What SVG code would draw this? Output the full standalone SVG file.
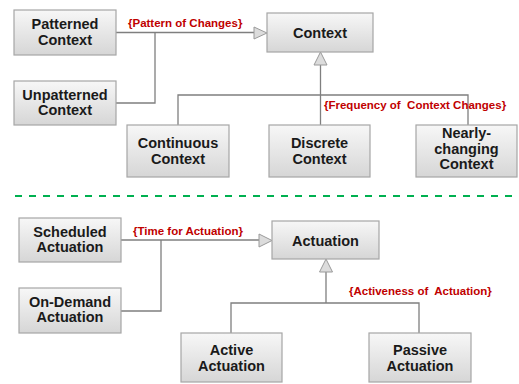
<svg xmlns="http://www.w3.org/2000/svg" width="519" height="384" viewBox="0 0 519 384">
<defs>
<linearGradient id="g" x1="0" y1="0" x2="0" y2="1">
<stop offset="0" stop-color="#f7f7f7"/>
<stop offset="1" stop-color="#d6d6d6"/>
</linearGradient>
</defs>
<style>
.box{fill:url(#g);stroke:#a6a6a6;stroke-width:1.2}
.t{font-family:"Liberation Sans",Arial,sans-serif;font-weight:bold;font-size:14.5px;fill:#1a1a1a;text-anchor:middle}
.lbl{font-family:"Liberation Sans",Arial,sans-serif;font-weight:bold;font-size:11.5px;fill:#c00000;white-space:pre}
.ln{fill:none;stroke:#7f7f7f;stroke-width:1.3}
.tri{fill:#dcdcdc;stroke:#9a9a9a;stroke-width:1}
</style>
<rect width="519" height="384" fill="#fff"/>
<g id="connectors">
<polyline class="ln" points="116,32.5 255,32.5"/>
<polyline class="ln" points="116,103 155,103 155,32.5"/>
<polygon class="tri" points="254,27 267,33 254,39"/>
<polyline class="ln" points="320.5,65 320.5,125"/>
<polyline class="ln" points="178,125 178,95 468,95 468,125"/>
<polygon class="tri" points="320.5,52 314,65 327,65"/>
<polyline class="ln" points="121,240 260,240"/>
<polyline class="ln" points="121,311 161,311 161,240"/>
<polygon class="tri" points="259,234 272,240.5 259,247"/>
<polyline class="ln" points="326,272 326,303"/>
<polyline class="ln" points="231,333 231,303 419,303 419,333"/>
<polygon class="tri" points="326,259 319.5,272 332.5,272"/>
</g>
<line x1="15" y1="196" x2="517" y2="196" stroke="#00b050" stroke-width="2" stroke-dasharray="7,7"/>
<g id="labels">
<text class="lbl" x="128" y="27">{Pattern of Changes}</text>
<text class="lbl" x="324" y="108.5" xml:space="preserve">{Frequency of  Context Changes}</text>
<text class="lbl" x="133" y="235">{Time for Actuation}</text>
<text class="lbl" x="349" y="295" xml:space="preserve">{Activeness of  Actuation}</text>
</g>
<g id="patterned"><rect class="box" x="14" y="10" width="102" height="45"/><text class="t" x="65" y="29">Patterned</text><text class="t" x="65" y="45">Context</text></g>
<g id="unpatterned"><rect class="box" x="14" y="81" width="102" height="44"/><text class="t" x="65" y="100">Unpatterned</text><text class="t" x="65" y="115">Context</text></g>
<g id="context"><rect class="box" x="267" y="13" width="106" height="39"/><text class="t" x="320" y="38">Context</text></g>
<g id="continuous"><rect class="box" x="127" y="125" width="102" height="52"/><text class="t" x="178" y="148">Continuous</text><text class="t" x="178" y="164">Context</text></g>
<g id="discrete"><rect class="box" x="269" y="125" width="101" height="52"/><text class="t" x="319.5" y="148">Discrete</text><text class="t" x="319.5" y="164">Context</text></g>
<g id="nearly"><rect class="box" x="416" y="125" width="101" height="52"/><text class="t" x="466.5" y="138">Nearly-</text><text class="t" x="466.5" y="154">changing</text><text class="t" x="466.5" y="169">Context</text></g>
<g id="scheduled"><rect class="box" x="19" y="218" width="102" height="44"/><text class="t" x="70" y="237">Scheduled</text><text class="t" x="70" y="252">Actuation</text></g>
<g id="ondemand"><rect class="box" x="19" y="288" width="102" height="45"/><text class="t" x="70" y="307">On-Demand</text><text class="t" x="70" y="322">Actuation</text></g>
<g id="actuation"><rect class="box" x="272" y="221" width="107" height="38"/><text class="t" x="325.5" y="246">Actuation</text></g>
<g id="active"><rect class="box" x="181" y="333" width="101" height="49"/><text class="t" x="231.5" y="355">Active</text><text class="t" x="231.5" y="371">Actuation</text></g>
<g id="passive"><rect class="box" x="369" y="333" width="102" height="49"/><text class="t" x="420" y="355">Passive</text><text class="t" x="420" y="371">Actuation</text></g>
</svg>
